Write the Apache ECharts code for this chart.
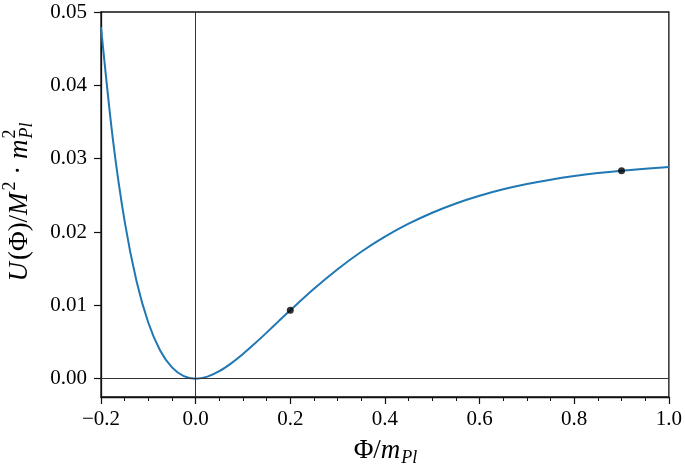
<!DOCTYPE html>
<html>
<head>
<meta charset="utf-8">
<script src="https://cdn.jsdelivr.net/npm/echarts@6/dist/echarts.min.js"></script>
<style>
  html, body { margin: 0; padding: 0; background: #fff; }
  #chart { width: 685px; height: 468px; }
</style>
</head>
<body>
<div id="chart"></div>
<script>
// valores
const phi = [-0.2, -0.175, -0.15, -0.125, -0.1, -0.075, -0.05, -0.025, 0,
    0.025, 0.05, 0.075, 0.1, 0.125, 0.15, 0.175, 0.2, 0.25, 0.3, 0.35, 0.4,
    0.45, 0.5, 0.55, 0.6, 0.65, 0.7, 0.75, 0.8, 0.85, 0.9, 0.95, 1.0];
const potencial = [0.04794, 0.03271, 0.02145, 0.01332, 0.00763, 0.00385, 0.00154, 0.00035, 0,
    0.00028, 0.00102, 0.00209, 0.00337, 0.00479, 0.00628, 0.00781, 0.00932, 0.01225, 0.01492, 0.01730, 0.01936,
    0.02113, 0.02263, 0.02389, 0.02494, 0.02582, 0.02654, 0.02714, 0.02763, 0.02803, 0.02836, 0.02863, 0.02885];
const puntosPhi = [0.2, 0.9];
const puntosU = [0.00932, 0.02836];
const ticksY = [0, 0.01, 0.02, 0.03, 0.04, 0.05];

const FUENTE = '"Liberation Serif", "DejaVu Serif", serif';

const linea = phi.map((x, i) => [x, potencial[i]]);
const puntos = puntosPhi.map((x, i) => [x, puntosU[i]]);

// medir texto para armar las etiquetas con sub/superindices
const ctx = document.createElement('canvas').getContext('2d');
function ancho(texto, size, italic) {
    ctx.font = (italic ? 'italic ' : '') + size + 'px ' + FUENTE;
    return ctx.measureText(texto).width;
}

// piezas: {t, it, size, dy, stack:[...]} -> elementos de texto
function armarEtiqueta(piezas) {
    const hijos = [];
    let x = 0;
    piezas.forEach(p => {
        const grupo = p.stack ? p.stack : [p];
        let w = 0;
        grupo.forEach(q => {
            hijos.push({
                type: 'text',
                style: {
                    text: q.t, x: x, y: q.dy || 0,
                    fontSize: q.size || 27, fontFamily: FUENTE,
                    fontStyle: q.it ? 'italic' : 'normal',
                    fill: '#000', textVerticalAlign: 'middle'
                }
            });
            w = Math.max(w, ancho(q.t, q.size || 27, q.it) + (q.extra || 0));
        });
        x += w;
    });
    return { hijos, total: x };
}

const etiquetaX = armarEtiqueta([
    { t: 'Φ/' },
    { t: 'm', it: true, extra: 1 },
    { t: 'Pl', it: true, size: 18, dy: 7 }
]);
const etiquetaY = armarEtiqueta([
    { t: 'U', it: true, extra: 2 },
    { t: '(Φ)/' },
    { t: 'M', it: true, extra: 2 },
    { t: '2', size: 18, dy: -10 },
    { t: ' · ' },
    { t: 'm', it: true, extra: 1 },
    { stack: [{ t: '2', size: 18, dy: -10 }, { t: 'Pl', it: true, size: 18, dy: 7 }] }
]);

const chart = echarts.init(document.getElementById('chart'));
chart.setOption({
    animation: false,
    backgroundColor: '#fff',
    grid: {
        left: 101, right: 15, top: 12, bottom: 71,
        show: true, borderColor: '#111', borderWidth: 1.3
    },
    xAxis: {
        type: 'value',
        min: -0.2, max: 1.0, interval: 0.2,
        axisLine: { show: true, onZero: false, lineStyle: { color: '#111', width: 1.3 } },
        axisTick: { show: true, length: 7, lineStyle: { color: '#111', width: 1.2 } },
        minorTick: { show: true, splitNumber: 4, length: 4, lineStyle: { color: '#111', width: 1 } },
        splitLine: { show: false },
        minorSplitLine: { show: false },
        axisLabel: {
            margin: 12, color: '#000', fontSize: 21, fontFamily: FUENTE,
            formatter: v => (v < 0 ? '−' + Math.abs(v).toFixed(1) : v.toFixed(1))
        }
    },
    yAxis: {
        type: 'value',
        min: -0.0025, max: 0.05,
        axisLine: { show: true, onZero: false, lineStyle: { color: '#111', width: 1.3 } },
        axisTick: { show: true, length: 7, customValues: ticksY, lineStyle: { color: '#111', width: 1.2 } },
        splitLine: { show: false },
        axisLabel: {
            margin: 14, color: '#000', fontSize: 21, fontFamily: FUENTE,
            customValues: ticksY,
            formatter: v => v.toFixed(2)
        }
    },
    series: [
        {
            type: 'line',
            data: linea,
            smooth: 0.3,
            showSymbol: false,
            lineStyle: { color: '#1f77b4', width: 2 },
            markLine: {
                silent: true,
                symbol: 'none',
                label: { show: false },
                lineStyle: { color: '#333', width: 1, type: 'solid' },
                data: [{ xAxis: 0 }, { yAxis: 0 }]
            },
            z: 3
        },
        {
            type: 'scatter',
            data: puntos,
            symbolSize: 7,
            itemStyle: { color: '#000' },
            z: 4
        }
    ],
    graphic: [
        {
            type: 'group',
            x: 385.5 - etiquetaX.total / 2,
            y: 451,
            children: etiquetaX.hijos
        },
        {
            type: 'group',
            x: 20,
            y: 202 + etiquetaY.total / 2,
            rotation: Math.PI / 2,
            children: etiquetaY.hijos
        }
    ]
});
</script>
</body>
</html>
